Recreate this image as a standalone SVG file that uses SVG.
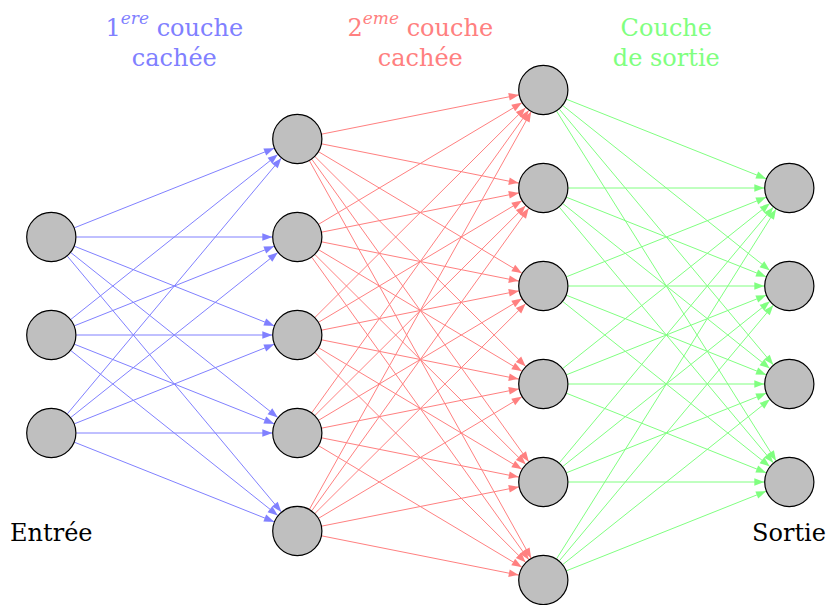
<svg xmlns="http://www.w3.org/2000/svg" width="826" height="605" viewBox="0 0 826 605">
<style>
.n{fill:#bfbfbf;stroke:#000;stroke-width:1.2}
.b{stroke:#8080ff;stroke-width:1;fill:none;marker-end:url(#ab)}
.r{stroke:#ff8080;stroke-width:1;fill:none;marker-end:url(#ar)}
.g{stroke:#80ff80;stroke-width:1;fill:none;marker-end:url(#ag)}
.t{font-family:"DejaVu Serif","Liberation Serif",serif;font-size:24px;text-anchor:middle}
.sup{font-style:italic;font-size:17px}
</style>
<defs>
<marker id="ab" markerUnits="userSpaceOnUse" orient="auto" refX="0" refY="0" markerWidth="12" markerHeight="10" viewBox="-11 -5 12 10" overflow="visible"><path d="M0,0 Q-4,-1.6 -10,-3.8 L-10,3.8 Q-4,1.6 0,0 Z" fill="#8080ff"/></marker>
<marker id="ar" markerUnits="userSpaceOnUse" orient="auto" refX="0" refY="0" markerWidth="12" markerHeight="10" viewBox="-11 -5 12 10" overflow="visible"><path d="M0,0 Q-4,-1.6 -10,-3.8 L-10,3.8 Q-4,1.6 0,0 Z" fill="#ff8080"/></marker>
<marker id="ag" markerUnits="userSpaceOnUse" orient="auto" refX="0" refY="0" markerWidth="12" markerHeight="10" viewBox="-11 -5 12 10" overflow="visible"><path d="M0,0 Q-4,-1.6 -10,-3.8 L-10,3.8 Q-4,1.6 0,0 Z" fill="#80ff80"/></marker>
</defs>
<g id="connectors">
<g class="blue">
<path class="b" d="M74.52,227.75 L274.08,148.25"/>
<path class="b" d="M76.3,237 L272.3,237"/>
<path class="b" d="M74.52,246.25 L274.08,325.75"/>
<path class="b" d="M70.85,252.58 L277.75,417.42"/>
<path class="b" d="M67.34,256.17 L281.26,511.83"/>
<path class="b" d="M70.85,319.42 L277.75,154.58"/>
<path class="b" d="M74.52,325.75 L274.08,246.25"/>
<path class="b" d="M76.3,335 L272.3,335"/>
<path class="b" d="M74.52,344.25 L274.08,423.75"/>
<path class="b" d="M70.85,350.58 L277.75,515.42"/>
<path class="b" d="M67.34,413.83 L281.26,158.17"/>
<path class="b" d="M70.85,417.42 L277.75,252.58"/>
<path class="b" d="M74.52,423.75 L274.08,344.25"/>
<path class="b" d="M76.3,433 L272.3,433"/>
<path class="b" d="M74.52,442.25 L274.08,521.75"/>
</g>
<g class="red">
<path class="r" d="M321.82,134.12 L518.78,94.88"/>
<path class="r" d="M321.82,143.88 L518.78,183.12"/>
<path class="r" d="M318.76,151.82 L521.84,273.18"/>
<path class="r" d="M315.01,156.64 L525.59,366.36"/>
<path class="r" d="M311.87,159.32 L528.73,461.68"/>
<path class="r" d="M309.48,160.83 L531.12,558.17"/>
<path class="r" d="M318.76,224.18 L521.84,102.82"/>
<path class="r" d="M321.82,232.12 L518.78,192.88"/>
<path class="r" d="M321.82,241.88 L518.78,281.12"/>
<path class="r" d="M318.76,249.82 L521.84,371.18"/>
<path class="r" d="M315.0,254.65 L420.3,359.5 L525.6,464.35"/>
<path class="r" d="M311.87,257.32 L528.73,559.68"/>
<path class="r" d="M315.01,317.36 L525.59,107.64"/>
<path class="r" d="M318.76,322.18 L521.84,200.82"/>
<path class="r" d="M321.82,330.12 L518.78,290.88"/>
<path class="r" d="M321.82,339.88 L518.78,379.12"/>
<path class="r" d="M318.76,347.82 L521.84,469.18"/>
<path class="r" d="M315.01,352.64 L525.59,562.36"/>
<path class="r" d="M311.87,412.68 L528.73,110.32"/>
<path class="r" d="M315.01,415.36 L525.59,205.64"/>
<path class="r" d="M318.76,420.18 L521.84,298.82"/>
<path class="r" d="M321.82,428.12 L518.78,388.88"/>
<path class="r" d="M321.82,437.88 L518.78,477.12"/>
<path class="r" d="M318.76,445.82 L521.84,567.18"/>
<path class="r" d="M309.48,509.17 L531.12,111.83"/>
<path class="r" d="M311.87,510.68 L528.73,208.32"/>
<path class="r" d="M315.01,513.36 L525.59,303.64"/>
<path class="r" d="M318.76,518.18 L521.84,396.82"/>
<path class="r" d="M321.82,526.12 L518.78,486.88"/>
<path class="r" d="M321.82,535.88 L518.78,575.12"/>
</g>
<g class="green">
<path class="g" d="M566.52,99.25 L766.08,178.75"/>
<path class="g" d="M562.85,105.58 L769.75,270.42"/>
<path class="g" d="M559.34,109.17 L773.26,364.83"/>
<path class="g" d="M556.59,111.18 L776.01,460.82"/>
<path class="g" d="M568.3,188 L764.3,188"/>
<path class="g" d="M566.52,197.25 L766.08,276.75"/>
<path class="g" d="M562.85,203.58 L769.75,368.42"/>
<path class="g" d="M559.34,207.17 L773.26,462.83"/>
<path class="g" d="M566.52,276.75 L766.08,197.25"/>
<path class="g" d="M568.3,286 L764.3,286"/>
<path class="g" d="M566.52,295.25 L766.08,374.75"/>
<path class="g" d="M562.85,301.58 L769.75,466.42"/>
<path class="g" d="M562.85,368.42 L769.75,203.58"/>
<path class="g" d="M566.52,374.75 L766.08,295.25"/>
<path class="g" d="M568.3,384 L764.3,384"/>
<path class="g" d="M566.52,393.25 L766.08,472.75"/>
<path class="g" d="M559.34,462.83 L773.26,207.17"/>
<path class="g" d="M562.85,466.42 L769.75,301.58"/>
<path class="g" d="M566.52,472.75 L766.08,393.25"/>
<path class="g" d="M568.3,482 L764.3,482"/>
<path class="g" d="M556.59,558.82 L776.01,209.18"/>
<path class="g" d="M559.34,560.83 L773.26,305.17"/>
<path class="g" d="M562.85,564.42 L769.75,399.58"/>
<path class="g" d="M566.52,570.75 L766.08,491.25"/>
</g>
</g>
<g id="in1"><circle class="n" cx="51.3" cy="237" r="24.6"/></g>
<g id="in2"><circle class="n" cx="51.3" cy="335" r="24.6"/></g>
<g id="in3"><circle class="n" cx="51.3" cy="433" r="24.6"/></g>
<g id="h1_1"><circle class="n" cx="297.3" cy="139" r="24.6"/></g>
<g id="h1_2"><circle class="n" cx="297.3" cy="237" r="24.6"/></g>
<g id="h1_3"><circle class="n" cx="297.3" cy="335" r="24.6"/></g>
<g id="h1_4"><circle class="n" cx="297.3" cy="433" r="24.6"/></g>
<g id="h1_5"><circle class="n" cx="297.3" cy="531" r="24.6"/></g>
<g id="h2_1"><circle class="n" cx="543.3" cy="90" r="24.6"/></g>
<g id="h2_2"><circle class="n" cx="543.3" cy="188" r="24.6"/></g>
<g id="h2_3"><circle class="n" cx="543.3" cy="286" r="24.6"/></g>
<g id="h2_4"><circle class="n" cx="543.3" cy="384" r="24.6"/></g>
<g id="h2_5"><circle class="n" cx="543.3" cy="482" r="24.6"/></g>
<g id="h2_6"><circle class="n" cx="543.3" cy="580" r="24.6"/></g>
<g id="out1"><circle class="n" cx="789.3" cy="188" r="24.6"/></g>
<g id="out2"><circle class="n" cx="789.3" cy="286" r="24.6"/></g>
<g id="out3"><circle class="n" cx="789.3" cy="384" r="24.6"/></g>
<g id="out4"><circle class="n" cx="789.3" cy="482" r="24.6"/></g>
<g id="labels">
<text class="t" x="174.3" y="36" fill="#8080ff">1<tspan class="sup" dy="-12">ere</tspan><tspan dy="12"> couche</tspan></text>
<text class="t" x="174.3" y="66" fill="#8080ff">cachée</text>
<text class="t" x="420.3" y="36" fill="#ff8080">2<tspan class="sup" dy="-12">eme</tspan><tspan dy="12"> couche</tspan></text>
<text class="t" x="420.3" y="66" fill="#ff8080">cachée</text>
<text class="t" x="666.3" y="36" fill="#80ff80">Couche</text>
<text class="t" x="666.3" y="66" fill="#80ff80">de sortie</text>
<text class="t" x="51.3" y="541" fill="#000">Entrée</text>
<text class="t" x="789" y="541" fill="#000">Sortie</text>
</g>
</svg>
